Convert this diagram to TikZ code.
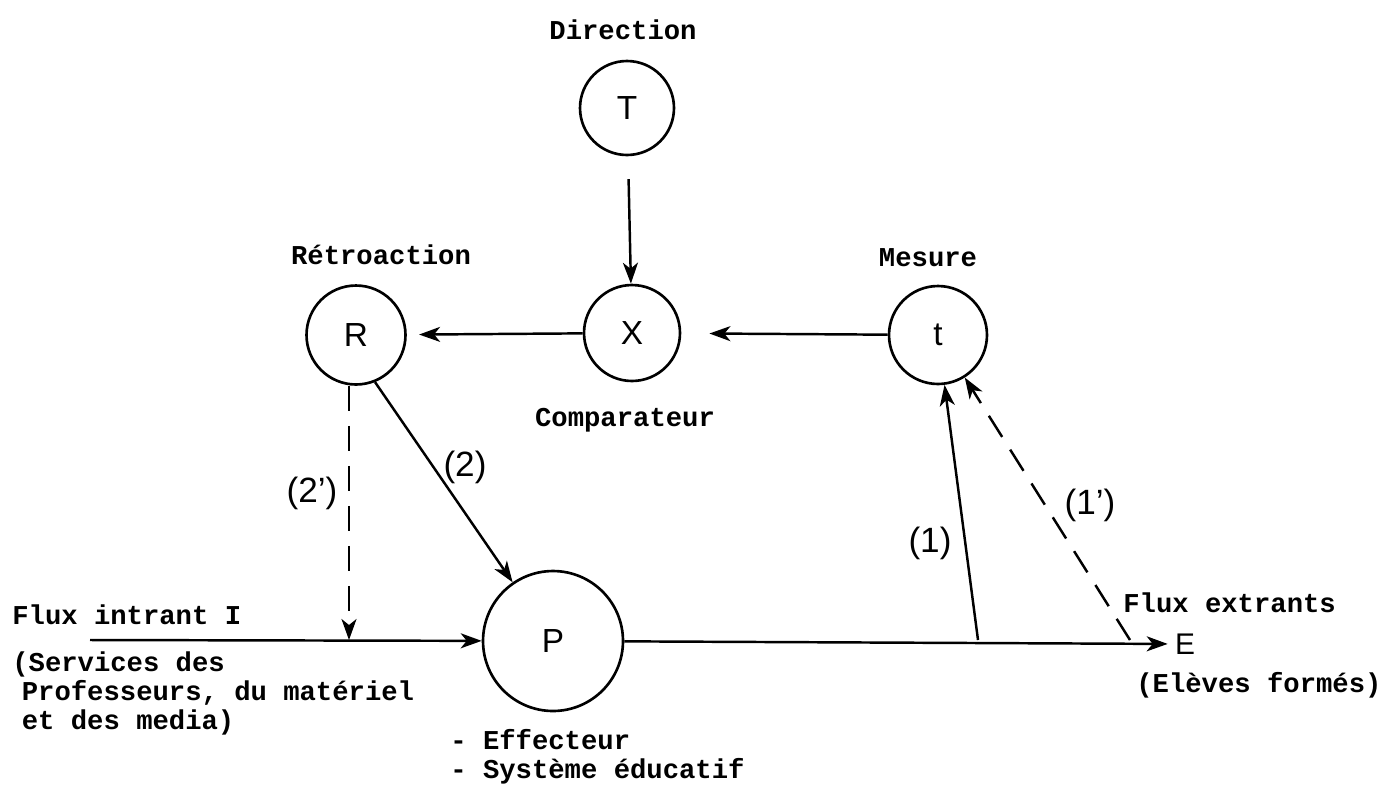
\documentclass[tikz,border=0pt]{standalone}
\usepackage{fontspec}
\setmainfont{Liberation Serif}
\setsansfont{Liberation Sans}
\setmonofont{Liberation Mono}
\usepackage{tikz}
\usetikzlibrary{arrows.meta,positioning}

\tikzset{
  bloc/.style={circle,draw,line width=1.5pt,inner sep=0pt,font=\sffamily\fontsize{19}{19}\selectfont},
  legende/.style={font=\ttfamily\bfseries\fontsize{15.5}{16.5}\selectfont,inner sep=0pt,align=left},
  repere/.style={font=\sffamily\fontsize{20}{20}\selectfont,inner sep=0pt},
  fleche/.style={line width=1.4pt,-{Stealth[length=0.42cm,width=0.3cm,inset=0.12cm]}},
  tirets/.style={dash pattern=on 0.5cm off 0.3cm}
}

\begin{document}
\begin{tikzpicture}[x=0.02cm,y=-0.02cm]
\useasboundingbox (0,0) rectangle (1385,792);

% Blocs
\node[bloc,minimum size=1.88cm] (T) at (627,108) {T};
\node[bloc,minimum size=1.92cm] (X) at (632,333) {X};
\node[bloc,minimum size=1.98cm] (R) at (356,335) {R};
\node[bloc,minimum size=1.96cm] (t) at (938,335) {t};
\node[bloc,minimum size=2.8cm] (P) at (553,641) {P};
\node[repere,font=\sffamily\fontsize{17}{17}\selectfont] (E) at (1185,644) {E};

% Titres
\node[legende] (dir) at (623,30) {Direction};
\node[legende] (retro) at (381,255) {Rétroaction};
\node[legende] (mes) at (928,258) {Mesure};
\node[legende] (comp) at (625,420) {Comparateur};

% Flux
\coordinate (in) at (90,640);
\coordinate (d2) at (349,640);
\coordinate (c1) at (978,640);
\coordinate (c2) at (1130,640);
\node[legende,anchor=west] (fi) at (12,615) {Flux intrant I};
\node[legende,anchor=north west] (serv) at (12,651) {(Services des\\\hspace{0.35em}Professeurs, du matériel\\\hspace{0.35em}et des media)};
\node[legende,anchor=west] (fe) at (1123,603) {Flux extrants};
\node[legende,anchor=west] (el) at (1136,685) {(Elèves formés)};
\node[legende,anchor=north west] (eff) at (450,729) {- Effecteur\\- Système éducatif};

% Boucle
\draw[fleche,shorten <=13pt] (T) -- (X);
\draw[fleche,shorten >=7pt] (X) -- (R);
\draw[fleche,shorten >=16pt] (t) -- (X);
\draw[fleche] (R.-68) -- (P);
\draw[fleche,tirets] (R.south -| d2) -- (d2);
\draw[fleche] (in) -- (P);
\draw[fleche,shorten >=4pt] (P) -- (E);
\draw[fleche] (c1) -- (t);
\draw[fleche,tirets] (c2) -- (t);

% Reperes
\node[repere] (l2) at (465,467) {(2)};
\node[repere] (l2b) at (312,493) {(2’)};
\node[repere] (l1) at (930,543) {(1)};
\node[repere] (l1b) at (1090,505) {(1’)};

\end{tikzpicture}
\end{document}
